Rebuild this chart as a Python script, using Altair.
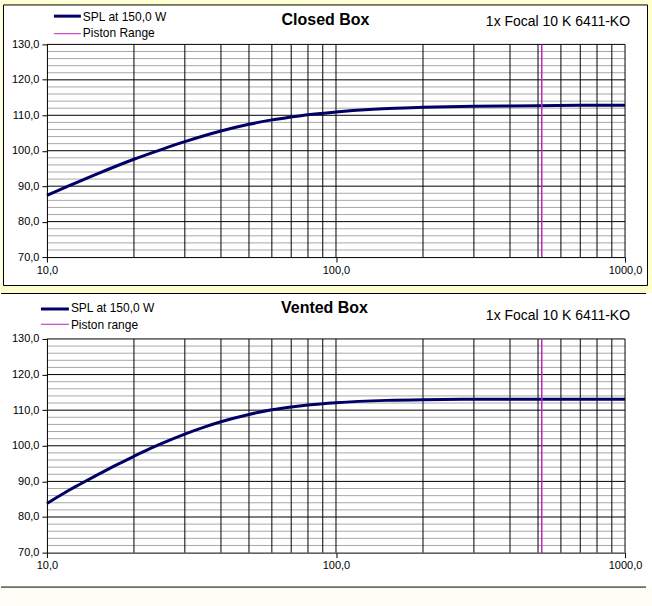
import altair as alt
import pandas as pd

# ---------------- data ----------------
FREQ_CLOSED = [10, 12, 15, 20, 25, 30, 40, 50, 60, 70, 80, 100, 130, 160, 200, 300, 500, 700, 1000]
SPL_CLOSED = [87.4, 90.2, 93.55, 97.6, 100.4, 102.55, 105.55, 107.45, 108.7, 109.5, 110.15, 110.9,
              111.6, 112.0, 112.25, 112.55, 112.7, 112.8, 112.85]

FREQ_VENTED = [10, 11, 12, 13, 15, 17, 20, 23, 25, 30, 35, 40, 50, 60, 70, 80, 100, 150, 200, 300, 500, 1000]
SPL_VENTED = [83.8, 85.85, 87.65, 89.2, 91.9, 94.2, 97.05, 99.4, 100.7, 103.3, 105.25, 106.75, 108.8,
              110.1, 110.9, 111.45, 112.1, 112.75, 112.95, 113.05, 113.1, 113.1]

PISTON = 515

TITLES = ["Closed Box", "Vented Box"]
DRIVER = "1x Focal 10 K 6411-KO"
LEGEND_TOP = ["SPL at 150,0 W", "Piston Range"]
LEGEND_BOTTOM = ["SPL at 150,0 W", "Piston range"]

X_TICKS = [10, 100, 1000]
Y_TICKS = [70, 80, 90, 100, 110, 120, 130]
V_GRID = [20, 30, 40, 50, 60, 70, 80, 90, 100, 200, 300, 400, 500, 600, 700, 800, 900, 1000]
H_MAJOR = [80, 90, 100, 110, 120, 130]
H_MINOR = [72, 74, 76, 78, 82, 84, 86, 88, 92, 94, 96, 98, 102, 104, 106, 108,
           112, 114, 116, 118, 122, 124, 126, 128]

NAVY = "#000066"
MAGENTA = "#C020C0"
FONT = "Liberation Sans"
W = 579
ONE = pd.DataFrame({"k": [0]})

LABEL_EXPR = "replace(format(datum.value, '.1f'), '.', ',')"
xscale = alt.Scale(type="log", domain=[10, 1000], nice=False)
yscale = alt.Scale(domain=[70, 130], nice=False, zero=False)
xaxis = alt.Axis(values=X_TICKS, labelExpr=LABEL_EXPR, grid=False, tickSize=5, tickColor="black",
                 domainColor="black", labelColor="black", labelFont=FONT, labelFontSize=11,
                 labelPadding=2, title=None, zindex=1, labelFlush=False, labelOverlap=False)
yaxis = alt.Axis(values=Y_TICKS, labelExpr=LABEL_EXPR, grid=False, tickSize=5, tickColor="black",
                 domainColor="black", labelColor="black", labelFont=FONT, labelFontSize=11,
                 labelPadding=3, title=None, zindex=1, labelOverlap=False)


def X(field):
    return alt.X(field, type="quantitative", scale=xscale, axis=xaxis)


def Y(field):
    return alt.Y(field, type="quantitative", scale=yscale, axis=yaxis)


def text_layer(s, x, y, size, align="left", bold=False):
    return alt.Chart(pd.DataFrame({"t": [s]})).mark_text(
        align=align, baseline="alphabetic", fontSize=size, font=FONT,
        fontWeight="bold" if bold else "normal", color="black"
    ).encode(x=alt.value(x), y=alt.value(y), text="t:N")


def panel(freqs, spl, title, legend, h, top):
    layers = []
    if top:
        layers.append(alt.Chart(ONE).mark_rect(color="#FFFFCC").encode(
            x=alt.value(-46), x2=alt.value(606), y=alt.value(-44), y2=alt.value(249)))
        layers.append(alt.Chart(ONE).mark_rect(fill="white", stroke="black", strokeWidth=1).encode(
            x=alt.value(-43.5), x2=alt.value(601.5), y=alt.value(-39.5), y2=alt.value(241.5)))
    else:
        layers.append(alt.Chart(ONE).mark_rect(color="#FEFEF6").encode(
            x=alt.value(-46), x2=alt.value(606), y=alt.value(249), y2=alt.value(267)))
        layers.append(alt.Chart(ONE).mark_rule(color="black", strokeWidth=1).encode(
            x=alt.value(-46), x2=alt.value(600), y=alt.value(-45.5)))
        layers.append(alt.Chart(ONE).mark_rule(color="black", strokeWidth=1).encode(
            x=alt.value(-46), x2=alt.value(600), y=alt.value(248.5)))

    layers.append(alt.Chart(pd.DataFrame({"v": H_MINOR})).mark_rule(color="#A8A8A8", strokeWidth=1)
                  .encode(y=Y("v")))
    layers.append(alt.Chart(pd.DataFrame({"v": H_MAJOR})).mark_rule(color="black", strokeWidth=1)
                  .encode(y=Y("v")))
    layers.append(alt.Chart(pd.DataFrame({"f": V_GRID})).mark_rule(color="black", strokeWidth=1)
                  .encode(x=X("f")))
    layers.append(alt.Chart(pd.DataFrame({"f": freqs, "spl": spl}))
                  .mark_line(color=NAVY, strokeWidth=3, interpolate="monotone")
                  .encode(x=X("f"), y=Y("spl")))
    layers.append(alt.Chart(pd.DataFrame({"f": [PISTON]})).mark_rule(color=MAGENTA, strokeWidth=1.5)
                  .encode(x=X("f")))

    if top:
        lx0, lx1, ty, l1y, t1y, l2y, t2y, tcx, tby, dby = 7, 34, 36, -28.3, -23, -10.7, -7, 279, -19, -18
    else:
        lx0, lx1, ty, l1y, t1y, l2y, t2y, tcx, tby, dby = -6, 22, 24, -30, -27, -14.7, -10, 278, -26, -19
    layers.append(alt.Chart(ONE).mark_rule(color=NAVY, strokeWidth=3).encode(
        x=alt.value(lx0), x2=alt.value(lx1), y=alt.value(l1y)))
    layers.append(alt.Chart(ONE).mark_rule(color=MAGENTA, strokeWidth=1).encode(
        x=alt.value(lx0), x2=alt.value(lx1), y=alt.value(l2y)))
    layers.append(text_layer(legend[0], ty, t1y, 12))
    layers.append(text_layer(legend[1], ty, t2y, 12))
    layers.append(text_layer(title, tcx, tby, 16, align="center", bold=True))
    layers.append(text_layer(DRIVER, 584, dby, 14, align="right"))

    return alt.layer(*layers).properties(width=W, height=h)


top = panel(FREQ_CLOSED, SPL_CLOSED, TITLES[0], LEGEND_TOP, 213, True)
bottom = panel(FREQ_VENTED, SPL_VENTED, TITLES[1], LEGEND_BOTTOM, 214, False)

chart = alt.vconcat(top, bottom, spacing=82, bounds="flush").properties(
    padding=0, background="white"
).configure_view(strokeWidth=0).configure_text(font=FONT)

chart.save("out.html", embed_options={"renderer": "svg", "actions": False})
